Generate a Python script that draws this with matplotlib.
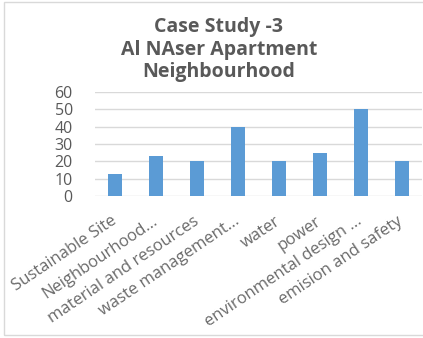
import matplotlib.pyplot as plt
from matplotlib.patches import Rectangle

categories = ['Sustainable Site', 'Neighbourhood...', 'material and resources',
              'waste management...', 'water', 'power',
              'environmental design ...', 'emision and safety']
scores = [12.5, 23, 20, 40, 20, 25, 50, 20]
yticks = [0, 10, 20, 30, 40, 50, 60]

grey = '#595959'
plt.rcParams['font.family'] = ['Open Sans', 'DejaVu Sans']

fig = plt.figure(figsize=(4.23, 3.38), dpi=100)
ax = fig.add_axes([95 / 423, 1 - 196 / 338, 327 / 423, 104 / 338])

ax.bar(range(len(scores)), scores, width=0.34, color='#5b9bd5', zorder=3)
ax.set_xlim(-0.5, len(scores) - 0.5)
ax.set_ylim(0, 60)
ax.set_yticks(yticks)
ax.grid(axis='y', color='#d9d9d9', linewidth=1, zorder=0)
for s in ax.spines.values():
    s.set_visible(False)
ax.tick_params(length=0, colors=grey)
ax.tick_params(axis='y', pad=16, labelsize=11.5)
ax.set_xticks(range(len(categories)))
ax.set_xticklabels(categories, rotation=34, ha='right', va='center',
                   rotation_mode='anchor', fontsize=12, color='#6a6a6a')
ax.tick_params(axis='x', pad=17)

fig.text(0.517, 1 - 17 / 338, 'Case Study -3\nAl NAser Apartment\nNeighbourhood',
         ha='center', va='top', fontsize=14, fontweight='bold', color=grey,
         linespacing=1.17)

# outer chart border
fig.patches.append(Rectangle((4 / 423, 3 / 338), 1.0, 1 - 5 / 338,
                             transform=fig.transFigure, fill=False,
                             edgecolor='#d9d9d9', linewidth=1))

fig.savefig('out.png', dpi=100)
